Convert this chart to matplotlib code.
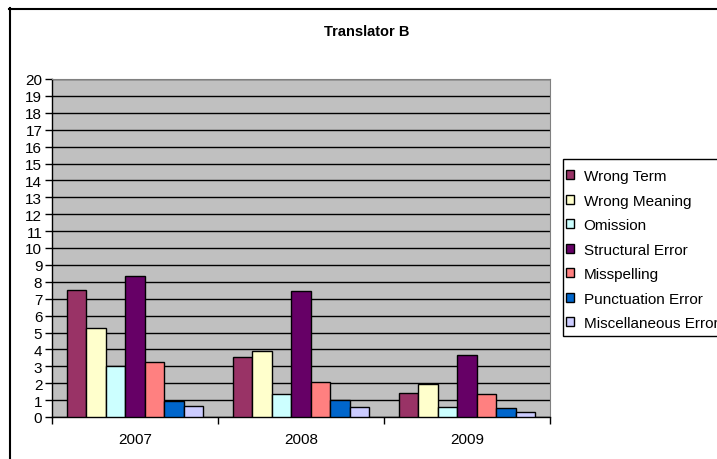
import matplotlib
matplotlib.use("Agg")
import matplotlib.pyplot as plt
from matplotlib.lines import Line2D
from matplotlib.patches import Rectangle
import numpy as np

plt.rcParams['font.family'] = ['Liberation Sans', 'DejaVu Sans']

years = ["2007", "2008", "2009"]
series_names = ["Wrong Term", "Wrong Meaning", "Omission", "Structural Error",
                "Misspelling", "Punctuation Error", "Miscellaneous Error"]
wrong_term = [7.5, 3.57, 1.4]
wrong_meaning = [5.27, 3.89, 1.93]
omission = [3.0, 1.38, 0.61]
structural_error = [8.34, 7.44, 3.65]
misspelling = [3.24, 2.05, 1.34]
punctuation_error = [0.93, 1.02, 0.51]
misc_error = [0.67, 0.61, 0.3]
all_series = [wrong_term, wrong_meaning, omission, structural_error,
              misspelling, punctuation_error, misc_error]
colors = ["#993366", "#FFFFCC", "#CCFFFF", "#660066", "#FF8080", "#0066CC", "#CCCCFF"]
y_ticks = list(range(0, 21))

W, H = 717, 460
fig = plt.figure(figsize=(7.17, 4.6), dpi=100)
ax = fig.add_axes([52/W, 42/H, 498/W, 338/H])
ax.set_facecolor("#C0C0C0")

x = np.arange(len(years))
n = len(all_series)
w = 1/8.5
for i, (vals, c, name) in enumerate(zip(all_series, colors, series_names)):
    offs = (i - (n-1)/2) * w
    ax.bar(x + offs, vals, width=w, color=c, edgecolor="black", linewidth=1.0,
           label=name, zorder=3)

ax.set_xlim(-0.5, 2.5)
ax.set_ylim(0, 20)
ax.set_yticks(y_ticks)
ax.set_yticklabels([str(t) for t in y_ticks], fontsize=11)
ax.yaxis.grid(True, color="black", linewidth=1.0, zorder=0)
ax.set_axisbelow(True)
ax.set_xticks(x)
ax.set_xticklabels(years, fontsize=11)
ax.tick_params(axis='x', which='major', length=0, pad=11)
ax.set_xticks([-0.5, 0.5, 1.5, 2.5], minor=True)
ax.tick_params(axis='x', which='minor', length=5, width=1, direction='out')
ax.tick_params(axis='y', length=5, width=1, direction='out', pad=2)
for s in ['left', 'bottom']:
    ax.spines[s].set_color('black')
    ax.spines[s].set_linewidth(1.0)
ax.spines['top'].set_color('#808080')
ax.spines['right'].set_color('#808080')

fig.text(367/W, 1 - 32/H, "Translator B", ha='center', va='center',
         fontsize=10.5, fontweight='bold')

# legend box
fig.add_artist(Rectangle((563/W, 1 - 337/H), 200/W, 177/H, transform=fig.transFigure,
                         facecolor='white', edgecolor='black', linewidth=1.0, zorder=1))
leg = fig.legend(loc='upper left', bbox_to_anchor=(566/W, 1 - 170/H),
                 fontsize=11, frameon=False,
                 handlelength=0.55, handleheight=0.55, handletextpad=0.6,
                 labelspacing=0.69, borderpad=0, borderaxespad=0)
leg.set_zorder(2)

fig.add_artist(Line2D([9.5/W, 9.5/W], [0, 1 - 9/H], transform=fig.transFigure,
                      color='black', linewidth=1.5))
fig.add_artist(Line2D([9/W, 1], [1 - 9.5/H, 1 - 9.5/H], transform=fig.transFigure,
                      color='black', linewidth=1.5))

fig.savefig("out.png", dpi=100)
